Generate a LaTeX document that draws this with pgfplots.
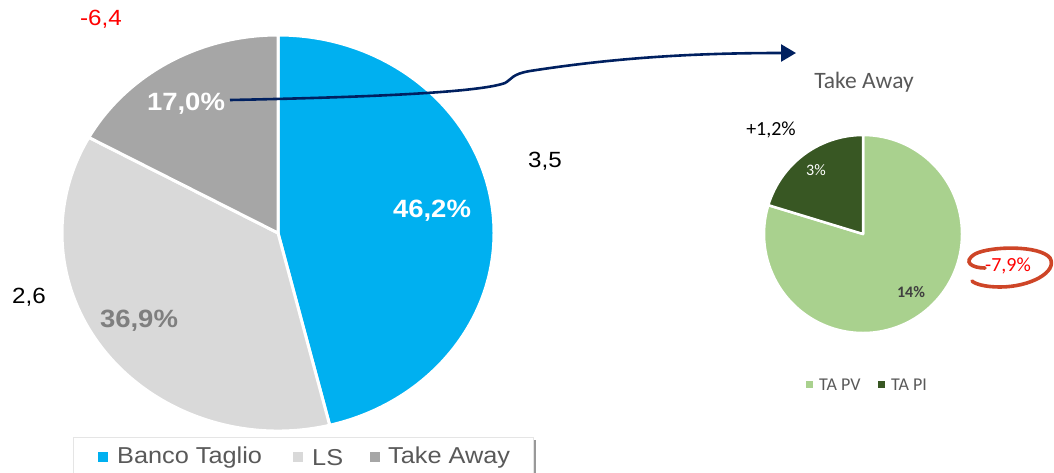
\documentclass[border=0pt]{standalone}
\usepackage{pgfplots}
\pgfplotsset{compat=1.18}
\usepackage{pgfplotstable}
\usepackage{graphicx}
\usepackage{fontspec}
\setmainfont{Liberation Sans}
\newfontfamily\calfont{Carlito}
\usetikzlibrary{arrows.meta}
\definecolor{bt}{HTML}{00B0F0}
\definecolor{ls}{HTML}{D9D9D9}
\definecolor{ta}{HTML}{A6A6A6}
\definecolor{lslab}{HTML}{7F7F7F}
\definecolor{pv}{HTML}{A9D18E}
\definecolor{pi}{HTML}{385723}
\definecolor{navy}{HTML}{002060}
\definecolor{legtxt}{HTML}{595959}
\definecolor{ring}{HTML}{CE4527}
\newcommand\fs[1]{\fontsize{#1}{#1}\selectfont}
\newcommand\sx[1]{\scalebox{1.1}[1]{#1}}

\pgfplotstableread{
share value
BancoTaglio 46.2
LS 36.9
TakeAway 17.0
}\maindata
\pgfplotstableread{
share value
TAPV 13.55
TAPI 3.45
}\tadata

\begin{document}
\begin{tikzpicture}
\pgfplotstablegetelem{0}{value}\of\maindata \pgfmathsetmacro\vA{\pgfplotsretval}
\pgfplotstablegetelem{1}{value}\of\maindata \pgfmathsetmacro\vB{\pgfplotsretval}
\pgfplotstablegetelem{2}{value}\of\maindata \pgfmathsetmacro\vC{\pgfplotsretval}
\pgfplotstablegetelem{0}{value}\of\tadata \pgfmathsetmacro\vPV{\pgfplotsretval}
\pgfplotstablegetelem{1}{value}\of\tadata \pgfmathsetmacro\vPI{\pgfplotsretval}
\pgfmathsetmacro\tot{\vA+\vB+\vC}
\pgfmathsetmacro\aA{90-360*(\vA/\tot)}
\pgfmathsetmacro\aB{\aA-360*(\vB/\tot)}
\pgfmathsetmacro\aC{\aB-360*(\vC/\tot)}
\pgfmathsetmacro\stot{\vPV+\vPI}
\pgfmathsetmacro\sA{90-360*(\vPV/\stot)}
\pgfmathsetmacro\sB{\sA-360*(\vPI/\stot)}
\begin{axis}[x=1pt,y=1pt,xmin=0,xmax=1054,ymin=0,ymax=472,y dir=reverse,
  hide axis,clip=false,scale only axis]
% big pie
\def\RX{216pt}\def\RY{198pt}
\filldraw[fill=bt,draw=white,line width=3pt,line join=round] (axis cs:278,233) -- ++(90:\RX\space and \RY) arc[start angle=90,end angle=\aA,x radius=\RX,y radius=\RY] -- cycle;
\filldraw[fill=ls,draw=white,line width=3pt,line join=round] (axis cs:278,233) -- ++(\aA:\RX\space and \RY) arc[start angle=\aA,end angle=\aB,x radius=\RX,y radius=\RY] -- cycle;
\filldraw[fill=ta,draw=white,line width=3pt,line join=round] (axis cs:278,233) -- ++(\aB:\RX\space and \RY) arc[start angle=\aB,end angle=\aC,x radius=\RX,y radius=\RY] -- cycle;
% small pie
\def\SR{99pt}
\filldraw[fill=pv,draw=white,line width=2.5pt,line join=round] (axis cs:863,234) -- ++(90:\SR) arc[start angle=90,end angle=\sA,radius=\SR] -- cycle;
\filldraw[fill=pi,draw=white,line width=2.5pt,line join=round] (axis cs:863,234) -- ++(\sA:\SR) arc[start angle=\sA,end angle=\sB,radius=\SR] -- cycle;
% big pie labels
\node[white,font=\fs{25}\bfseries] at (axis cs:432,211) {\sx{46,2\%}};
\node[lslab,font=\fs{25}\bfseries] at (axis cs:139,321) {\sx{36,9\%}};
\node[white,font=\fs{25}\bfseries] at (axis cs:186,104) {\sx{17,0\%}};
\node[red,font=\fs{22}] at (axis cs:101,19) {\sx{-6,4}};
\node[black,font=\fs{22}] at (axis cs:545,161) {\sx{3,5}};
\node[black,font=\fs{22}] at (axis cs:29,297) {\sx{2,6}};
% arrow
\draw[navy,line width=2.6pt,-{Triangle[length=15pt,width=17pt]}]
  (axis cs:230,100) .. controls (axis cs:380,97) and (axis cs:480,92) .. (axis cs:505,83)
  .. controls (axis cs:512,79) and (axis cs:512,74) .. (axis cs:530,71)
  .. controls (axis cs:620,57) and (axis cs:700,53) .. (axis cs:796,53);
% legend big
\fill[black!40] (axis cs:76,440) rectangle (axis cs:536,475);
\filldraw[fill=white,draw=black!10,line width=0.6pt] (axis cs:73,437) rectangle (axis cs:533,473);
\fill[bt] (axis cs:98,452) rectangle (axis cs:108,462);
\node[legtxt,anchor=west,font=\fs{23},inner sep=0pt] at (axis cs:117,458) {\sx{Banco Taglio}};
\fill[ls] (axis cs:293,452) rectangle (axis cs:303,462);
\node[legtxt,anchor=west,font=\fs{23},inner sep=0pt] at (axis cs:312,458) {\sx{LS}};
\fill[ta] (axis cs:370,452) rectangle (axis cs:380,462);
\node[legtxt,anchor=west,font=\fs{23},inner sep=0pt] at (axis cs:388,458) {\sx{Take Away}};
% small chart texts
\node[legtxt,font=\calfont\fs{23.5}] at (axis cs:864,82) {Take Away};
\node[black,font=\calfont\fs{20}] at (axis cs:771,130) {+1,2\%};
\node[white,font=\calfont\fs{16}] at (axis cs:816,170) {3\%};
\node[black!75,font=\calfont\fs{16}\bfseries] at (axis cs:911,292) {14\%};
\node[red,font=\calfont\fs{20}] at (axis cs:1008,266) {-7,9\%};
\draw[ring,line width=3.6pt,line cap=round]
  (axis cs:985,268) .. controls (axis cs:972,268) and (axis cs:962,262) .. (axis cs:975,254)
  .. controls (axis cs:990,246) and (axis cs:1040,245) .. (axis cs:1050,258)
  .. controls (axis cs:1058,272) and (axis cs:1030,287) .. (axis cs:1000,287)
  .. controls (axis cs:985,287) and (axis cs:975,284) .. (axis cs:972,281);
\fill[pv] (axis cs:806,381) rectangle (axis cs:813,388);
\node[legtxt,anchor=west,font=\calfont\fs{18},inner sep=0pt] at (axis cs:819,385) {TA PV};
\fill[pi] (axis cs:878,381) rectangle (axis cs:885,388);
\node[legtxt,anchor=west,font=\calfont\fs{18},inner sep=0pt] at (axis cs:891,385) {TA PI};
\end{axis}
\pgfresetboundingbox
\path[use as bounding box] (0,0) rectangle (1054pt,472pt);
\end{tikzpicture}
\end{document}
